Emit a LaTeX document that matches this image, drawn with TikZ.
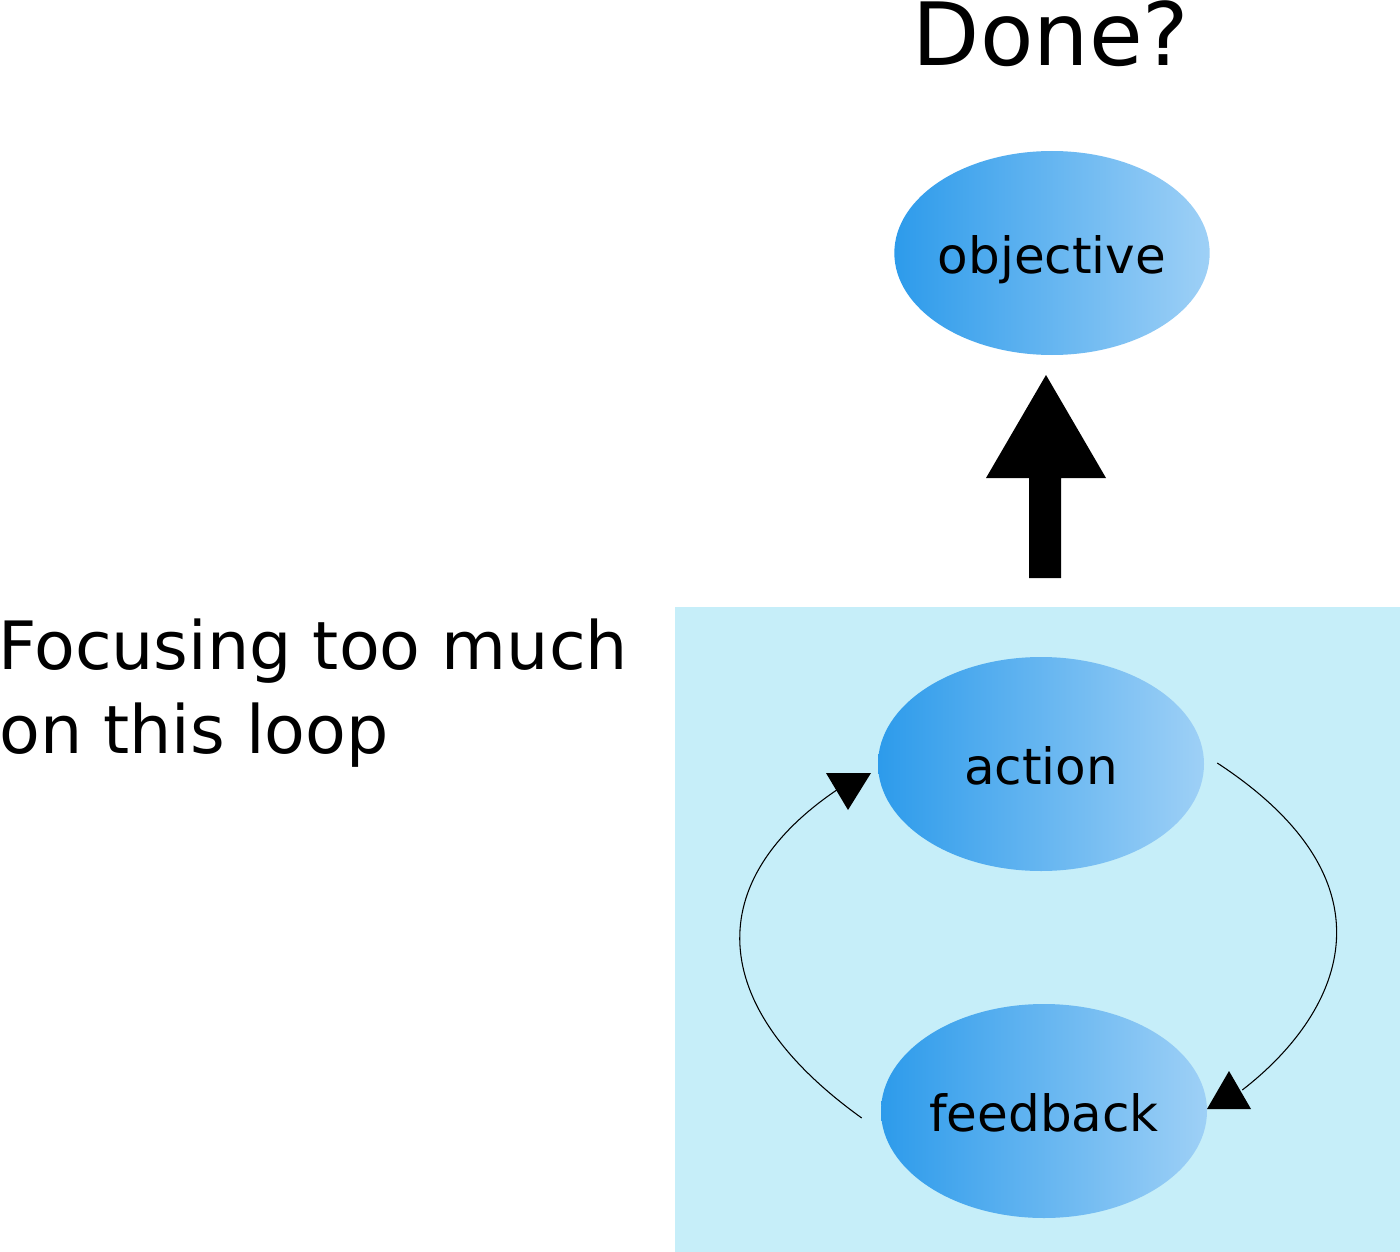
\documentclass[tikz,border=0pt]{standalone}
\usepackage{fontspec}
\setmainfont{DejaVu Sans}
\usetikzlibrary{shapes.geometric,positioning}
\definecolor{loopbg}{RGB}{198,238,249}
\definecolor{bubbledark}{RGB}{45,155,235}
\definecolor{bubblemid}{RGB}{70,168,238}
\definecolor{bubblelight}{RGB}{158,208,246}
\tikzset{
  bubble/.style={shape=ellipse, left color=bubbledark, middle color=bubblemid, right color=bubblelight,
    minimum width=244.5pt, minimum height=160.5pt, inner sep=0pt,
    text height=30pt, text depth=0pt, font=\fontsize{37.5}{45}\selectfont},
  loopline/.style={draw=black, line width=0.8pt},
  bigtext/.style={anchor=base west, inner sep=0pt, font=\fontsize{50}{60}\selectfont}
}

\begin{document}
\begin{tikzpicture}[x=0.75pt,y=-0.75pt]
  \useasboundingbox (0,0) rectangle (1400,1252);
  % the loop box
  \fill[loopbg] (675,607) rectangle (1400,1252);
  \node[anchor=base, inner sep=0pt, font=\fontsize{65.5}{70}\selectfont] (done) at (1051,66) {Done?};
  \node[bubble, minimum width=233pt, minimum height=153pt, inner xsep=-2pt] (objective) at (1052,253) {objective};
  \node[bubble] (action) at (1041,764) {action};
  \node[bubble] (feedback) at (1044,1111) {feedback};
  \node[bigtext] (focus) at (-2,669) {Focusing too much};
  \node[bigtext] (focusb) at (-1,753) {on this loop};
  % block arrow up to the objective
  \fill (1029,578) -- (1029,478) -- (986,478) -- (1046,375) -- (1106,478) -- (1061,478) -- (1061,578) -- cycle;
  % loop arcs
  \draw[loopline] ([shift={(-19,7)}]feedback.west) .. controls (703,1004) and (704,880) .. ([shift={(-41,26)}]action.west);
  \fill (826,773) -- (871,773) -- (848,810) -- cycle;
  \draw[loopline] ([shift={(13,-1)}]action.east) .. controls (1405,886) and (1338,1016) .. ([shift={(35,-21)}]feedback.east);
  \fill (1229,1071) -- (1251,1109) -- (1207,1109) -- cycle;
\end{tikzpicture}
\end{document}
